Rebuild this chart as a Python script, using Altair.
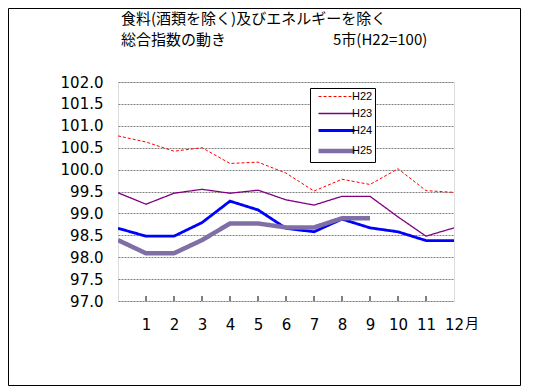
import altair as alt
import pandas as pd

months = list(range(0, 13))
series_names = ["H22", "H23", "H24", "H25"]
h22 = [100.77, 100.63, 100.42, 100.5, 100.14, 100.17, 99.92, 99.51, 99.78, 99.66, 100.02, 99.52, 99.48]
h23 = [99.47, 99.21, 99.46, 99.55, 99.46, 99.53, 99.31, 99.19, 99.39, 99.39, 98.92, 98.48, 98.67]
h24 = [98.66, 98.48, 98.48, 98.79, 99.28, 99.08, 98.66, 98.58, 98.87, 98.67, 98.58, 98.38, 98.38]
h25 = [98.39, 98.09, 98.09, 98.39, 98.77, 98.77, 98.68, 98.68, 98.89, 98.89]
tick_months = list(range(1, 12))
x_labels = list(range(1, 13))
y_ticks = [97.0, 97.5, 98.0, 98.5, 99.0, 99.5, 100.0, 100.5, 101.0, 101.5, 102.0]
title_line1 = "食料(酒類を除く)及びエネルギーを除く"
title_line2 = "総合指数の動き"
title_right = "5市(H22=100)"

colors = ["#FF0000", "#800080", "#0000FF", "#7F6FA6"]
dashes = [[3, 2], [1, 0], [1, 0], [1, 0]]
widths = [1, 1.3, 2.8, 4.5]

rows = []
for name, vals in zip(series_names, [h22, h23, h24, h25]):
    for m, v in zip(months, vals):
        rows.append({"month": m, "value": v, "series": name})
df = pd.DataFrame(rows)

W, H = 336, 219

xscale = alt.Scale(domain=[0, 12], nice=False, zero=False)
yscale = alt.Scale(domain=[97, 102], nice=False, zero=False)

xaxis = alt.Axis(values=x_labels, title=None, ticks=False, grid=False,
                 labelFontSize=15, labelFont="DejaVu Sans", labelColor="black",
                 labelPadding=16, domain=False, labelFlush=False,
                 labelOverlap=False, labelBound=False, format="d")

legend = alt.Legend(
    title=None, orient="none", legendX=192, legendY=6,
    strokeColor="black", fillColor="white", padding=2,
    symbolType="M-3,0H3", symbolSize=144, labelFontSize=11,
    labelFont="Liberation Sans", labelColor="black", rowPadding=4.5,
    symbolOffset=16, labelOffset=7, cornerRadius=0,
)

lines = alt.Chart(df).mark_line(clip=True).encode(
    x=alt.X("month:Q", scale=xscale, axis=xaxis),
    y=alt.Y("value:Q", scale=yscale,
            axis=alt.Axis(values=y_ticks, format=".1f", title=None, ticks=False,
                          labelFontSize=15, labelFont="DejaVu Sans", labelColor="black",
                          labelPadding=15, grid=True, gridColor="#808080",
                          gridDash=[2, 1], gridWidth=1, domain=False,
                          labelOverlap=False)),
    color=alt.Color("series:N", scale=alt.Scale(type="ordinal", domain=series_names, range=colors), legend=legend),
    strokeDash=alt.StrokeDash("series:N", scale=alt.Scale(type="ordinal", domain=series_names, range=dashes), legend=legend),
    strokeWidth=alt.StrokeWidth("series:N", scale=alt.Scale(type="ordinal", domain=series_names, range=widths), legend=legend),
    order=alt.Order("series:N"),
)

ticks = alt.Chart(pd.DataFrame({"month": tick_months})).mark_rule(color="black", strokeWidth=1).encode(
    x=alt.X("month:Q", scale=xscale, axis=xaxis),
    y=alt.value(H),
    y2=alt.value(H - 5),
)

month_unit = alt.Chart(pd.DataFrame({"month": [12]})).mark_text(
    text="月", fontSize=14, font="Noto Sans CJK JP", color="black",
    baseline="top", align="left", dx=11, dy=16,
).encode(x=alt.X("month:Q", scale=xscale, axis=xaxis), y=alt.value(H))

title_style = dict(fontSize=15, font="Noto Sans CJK JP", color="black", baseline="middle", align="left")
t1 = alt.Chart(pd.DataFrame({"a": [0]})).mark_text(text=title_line1, **title_style).encode(
    x=alt.value(3), y=alt.value(-63.5))
t2 = alt.Chart(pd.DataFrame({"a": [0]})).mark_text(text=title_line2, **title_style).encode(
    x=alt.value(3), y=alt.value(-42))
t3 = alt.Chart(pd.DataFrame({"a": [0]})).mark_text(text=title_right, **title_style).encode(
    x=alt.value(215), y=alt.value(-42))

frame = alt.Chart(pd.DataFrame({"a": [0]})).mark_rect(
    fill="transparent", stroke="black", strokeWidth=1,
).encode(
    x=alt.value(-109.5), x2=alt.value(402.5),
    y=alt.value(-73.5), y2=alt.value(303.5),
)

chart = alt.layer(frame, lines, ticks, month_unit, t1, t2, t3).properties(
    width=W, height=H, padding=0,
).configure_view(stroke="black", strokeWidth=1).configure(
    background="white"
).configure_axisX(labelOverlap=False, labelBound=False, labelFlush=False)

chart.save("out.html", embed_options={"renderer": "svg", "actions": False})
